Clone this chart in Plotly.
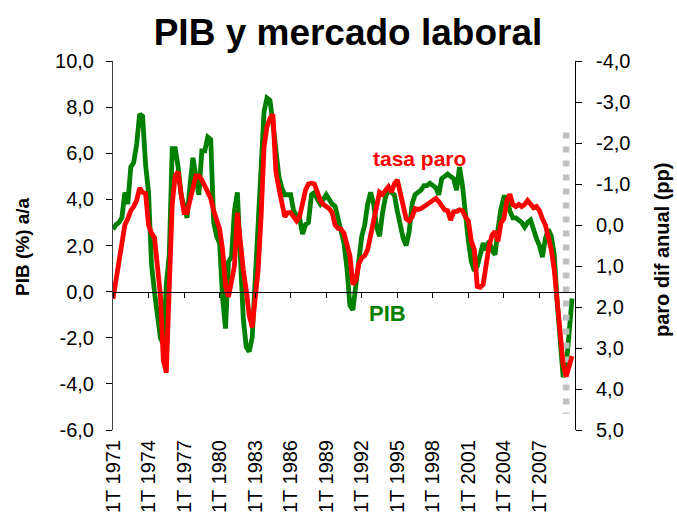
import plotly.graph_objects as go

# Quarterly categories 1T 1971 .. 4T 2009
years = list(range(1971, 2010))
quarters = [f"{q}T {y}" for y in years for q in (1, 2, 3, 4)]

# PIB (% a/a), left axis
pib = [2.7, 2.9, 3.0, 3.2, 4.3, 3.8, 5.4, 5.6, 6.4, 7.7, 7.6, 5.5,
       4.3, 1.2, 0.0, -1.2, -2.0, -2.3, 0.3, 1.6, 6.2, 6.2, 5.4, 4.2,
       3.6, 3.2, 4.6, 5.8, 5.0, 4.2, 6.1, 6.1, 6.7, 6.6, 3.0, 2.4,
       2.1, -0.3, -1.6, 1.3, 1.5, 3.5, 4.3, 2.0, -1.2, -2.4, -2.6, -2.0,
       0.5, 2.5, 5.0, 7.8, 8.4, 8.3, 7.3, 6.0, 5.0, 4.5, 4.2, 4.2,
       4.2, 3.5, 3.3, 3.2, 2.5, 2.9, 3.0, 4.2, 4.3, 4.0, 3.8, 4.0,
       4.2, 4.0, 3.8, 3.7, 3.2, 2.8, 2.1, 1.0, -0.6, -0.8, 0.4, 1.2,
       2.4, 2.9, 3.8, 4.3, 3.8, 2.8, 2.4, 3.4, 4.1, 4.4, 4.3, 4.2,
       3.5, 2.8, 2.3, 2.0, 2.6, 3.8, 4.2, 4.3, 4.4, 4.6, 4.6, 4.7,
       4.6, 4.5, 4.2, 4.9, 5.0, 5.1, 5.0, 4.9, 4.4, 5.4, 4.6, 3.2,
       2.2, 1.3, 0.9, 1.1, 1.6, 2.1, 1.8, 2.2, 1.8, 1.6, 2.7, 3.6,
       4.1, 4.1, 3.5, 3.2, 3.2, 3.1, 3.0, 2.8, 3.0, 3.1, 2.6, 2.3,
       2.0, 1.5, 2.3, 2.7, 2.4, 1.6, -0.5, -2.3, -3.7, -3.3, -2.0, -0.3]

# Tasa de paro, diferencia anual (pp), right axis (reversed)
paro = [1.8, 1.3, 0.8, 0.4, 0.0, -0.15, -0.35, -0.45, -0.6, -0.9, -0.8, -0.77,
        0.0, 0.2, 0.3, 1.0, 1.7, 3.3, 3.6, 1.5, -0.5, -1.2, -1.3, -0.75,
        -0.3, -0.3, -0.6, -1.0, -1.2, -1.2, -1.1, -0.95, -0.8, -0.65, -0.35, -0.15,
        0.1, 0.6, 1.5, 1.75, 1.4, 1.0, -0.3, 0.5, 1.1, 1.6, 2.2, 2.5,
        1.8, 1.1, -0.2, -1.9, -2.4, -2.6, -2.7, -1.3, -0.9, -0.6, -0.2, -0.3,
        -0.3, -0.2, -0.1, -0.2, -0.5, -0.85, -1.0, -1.02, -1.0, -0.8, -0.6, -0.5,
        -0.45, -0.4, -0.3, 0.0, 0.08, 0.1, 0.2, 0.5, 0.75, 1.45, 1.35, 0.95,
        0.8, 0.75, 0.6, 0.25, -0.15, -0.55, -0.8, -0.75, -0.85, -0.93, -0.8, -1.0,
        -1.1, -0.8, -0.4, -0.15, -0.1, -0.2, -0.4, -0.38, -0.4, -0.45, -0.5, -0.55,
        -0.6, -0.65, -0.57, -0.45, -0.37, -0.35, -0.12, -0.32, -0.33, -0.37, -0.35, -0.2,
        -0.1, 0.4, 0.6, 1.5, 1.52, 1.45, 1.0, 0.5, 0.25, 0.16, 0.4, -0.05,
        -0.15, -0.6, -0.75, -0.5, -0.45, -0.5, -0.45, -0.5, -0.6, -0.5, -0.42, -0.45,
        -0.35, -0.15, 0.0, 0.3, 0.6, 1.1, 1.8, 2.7, 3.4, 3.7, 3.4, 3.2]

# x tick labels every 3 years
tick_cats = [f"1T {y}" for y in range(1971, 2010, 3)]

# y tick values / labels
left_ticks = [10, 8, 6, 4, 2, 0, -2, -4, -6]
left_labels = ["10,0", "8,0", "6,0", "4,0", "2,0", "0,0", "-2,0", "-4,0", "-6,0"]
right_ticks = [-4, -3, -2, -1, 0, 1, 2, 3, 4, 5]
right_labels = ["-4,0", "-3,0", "-2,0", "-1,0", "0,0", "1,0", "2,0", "3,0", "4,0", "5,0"]

# vertical marker (grey dotted line)
marker_cat = "2T 2009"
marker_y = [6.9, -5.3]

FONT = "Liberation Sans, Arial, sans-serif"
OFF = 0  # body margin removed via post_script

fig = go.Figure()

# dummy trace to show the zero-line axis with tick marks
fig.add_trace(go.Scatter(x=quarters, y=[None] * len(quarters), xaxis="x2", yaxis="y",
                         mode="lines", showlegend=False, hoverinfo="skip"))

fig.add_trace(go.Scatter(x=quarters, y=pib, mode="lines", name="PIB",
                         line=dict(color="#008000", width=4.8), showlegend=False))
fig.add_trace(go.Scatter(x=quarters, y=paro, mode="lines", name="tasa paro", yaxis="y2",
                         line=dict(color="#FF0000", width=4.8), showlegend=False))
fig.add_trace(go.Scatter(x=[marker_cat, marker_cat], y=marker_y, mode="lines",
                         line=dict(color="#C0C0C0", width=6.5, dash="6px,8px"),
                         showlegend=False, hoverinfo="skip"))

x_common = dict(type="category", categoryorder="array", categoryarray=quarters,
                range=[0, 156], showgrid=False, zeroline=False, automargin=False)

W, H = 677, 524
L, T = 113 - OFF, 61 - OFF
PW, PH = 462, 369

fig.update_layout(
    template="none",
    width=W, height=H,
    margin=dict(l=L, r=W - L - PW, t=T, b=H - T - PH, autoexpand=False),
    paper_bgcolor="white", plot_bgcolor="white",
    font=dict(family=FONT, size=20, color="black"),
    title=dict(text="<b>PIB y mercado laboral</b>", x=(348 - OFF) / W, xref="container",
               xanchor="center", y=1 - (32 - OFF) / H, yanchor="middle",
               font=dict(size=37, family=FONT)),
    xaxis=dict(**x_common, showline=False, ticks="", tickvals=tick_cats,
               ticktext=tick_cats, tickangle=-90, ticklabelstandoff=5,
               tickfont=dict(size=20)),
    xaxis2=dict(**x_common, overlaying="x", anchor="free", position=0.375, side="bottom",
                showline=True, linecolor="black", linewidth=1,
                ticks="outside", ticklen=5, tickcolor="black",
                tickvals=tick_cats, showticklabels=False),
    yaxis=dict(range=[-6, 10], tickvals=left_ticks, ticktext=left_labels,
               showgrid=False, zeroline=False, automargin=False,
               showline=True, linecolor="#404040", linewidth=1, ticks="outside",
               ticklen=6, tickcolor="black", ticklabelstandoff=8),
    yaxis2=dict(range=[5, -4], tickvals=right_ticks, ticktext=right_labels,
                overlaying="y", side="right", automargin=False,
                showgrid=False, zeroline=False, showline=True, linecolor="black",
                linewidth=1, ticks="outside", ticklen=6, tickcolor="black",
                ticklabelstandoff=10),
    annotations=[
        dict(text="<b>PIB (%) a/a</b>", xref="paper", yref="paper",
             x=(22 - 113) / PW, y=(430 - 247) / PH, xanchor="center", yanchor="middle",
             textangle=-90, showarrow=False, font=dict(size=19)),
        dict(text="<b>paro dif anual (pp)</b>", xref="paper", yref="paper",
             x=(662 - 113) / PW, y=(430 - 250) / PH, xanchor="center", yanchor="middle",
             textangle=-90, showarrow=False, font=dict(size=20)),
        dict(text="<b>tasa paro</b>", xref="paper", yref="paper",
             x=(419 - 113) / PW, y=(430 - 158) / PH, xanchor="center", yanchor="middle",
             showarrow=False, font=dict(size=21, color="#FF0000")),
        dict(text="<b>PIB</b>", xref="paper", yref="paper",
             x=(387 - 113) / PW, y=(430 - 313) / PH, xanchor="center", yanchor="middle",
             showarrow=False, font=dict(size=22, color="#008000")),
    ],
)

fig.write_html(
    "out.html",
    config={"displayModeBar": False},
    post_script="document.body.style.margin='0';document.body.style.overflow='hidden';",
)
